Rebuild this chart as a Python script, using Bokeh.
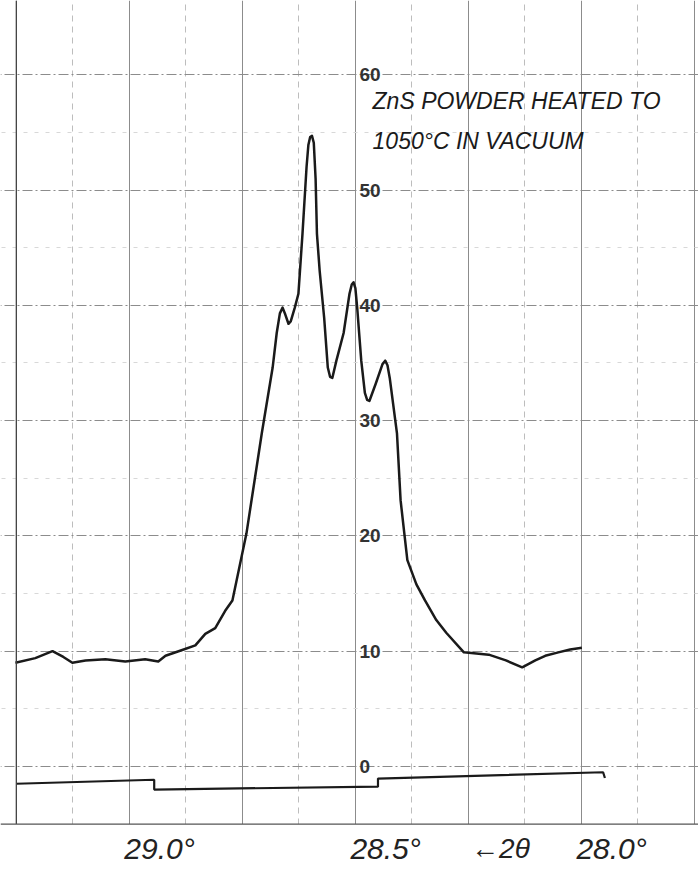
from bokeh.plotting import figure
from bokeh.models import Range1d, FixedTicker, Label, Span, BoxAnnotation
from bokeh.core.properties import value
from bokeh.embed import file_html
from bokeh.resources import INLINE

# --- data ---
two_theta = [29.252, 29.208, 29.170, 29.146, 29.126, 29.097, 29.053, 29.009, 28.965, 28.936,
             28.920, 28.883, 28.854, 28.832, 28.810, 28.788, 28.772, 28.741, 28.707, 28.683,
             28.674, 28.667, 28.661, 28.655, 28.648, 28.643, 28.634, 28.626, 28.617, 28.608,
             28.604, 28.600, 28.596, 28.592, 28.588, 28.585, 28.579, 28.569, 28.561, 28.556,
             28.551, 28.542, 28.526, 28.513, 28.508, 28.504, 28.500, 28.496, 28.487, 28.479,
             28.474, 28.469, 28.455, 28.440, 28.434, 28.429, 28.424, 28.408, 28.400, 28.392,
             28.385, 28.365, 28.346, 28.321, 28.299, 28.260, 28.205, 28.167, 28.131, 28.102,
             28.080, 28.051, 28.025, 27.999]
intensity = [9.0, 9.4, 10.0, 9.5, 9.0, 9.2, 9.3, 9.1, 9.3, 9.1,
             9.6, 10.1, 10.5, 11.5, 12.0, 13.5, 14.4, 20.2, 28.9, 34.6,
             37.6, 39.3, 39.8, 39.2, 38.4, 38.6, 39.8, 41.0, 46.2, 52.0,
             53.9, 54.6, 54.7, 54.1, 51.0, 46.2, 43.0, 38.9, 34.6, 33.8,
             33.7, 35.2, 37.6, 41.0, 41.8, 42.0, 41.5, 39.8, 35.2, 32.4,
             31.8, 31.7, 33.2, 34.9, 35.2, 34.8, 33.7, 28.9, 23.1, 20.3,
             17.9, 15.8, 14.4, 12.7, 11.6, 9.9, 9.7, 9.2, 8.6, 9.2,
             9.6, 9.9, 10.15, 10.3]

marker_theta = [29.25, 28.945, 28.945, 28.45, 28.45, 27.952, 27.948]
marker_level = [-1.5, -1.15, -2.0, -1.75, -1.05, -0.5, -1.0]

x_tick_values = [29.0, 28.5, 28.0]
x_tick_labels = ["29.0°", "28.5°", "28.0°"]
y_tick_values = [0, 10, 20, 30, 40, 50, 60]
y_minor_values = [5, 15, 25, 35, 45, 55]
x_grid_major = [29.25, 29.0, 28.75, 28.5, 28.25, 28.0, 27.75]
x_grid_minor = [29.125, 28.875, 28.625, 28.375, 28.125, 27.875]
title_lines = ["ZnS POWDER HEATED TO", "1050°C IN VACUUM"]
axis_title = "←2θ"

p = figure(width=698, height=868,
           x_range=Range1d(29.285, 27.741), y_range=Range1d(-8.85, 66.44),
           output_backend="svg", toolbar_location=None,
           min_border_left=0, min_border_right=0, min_border_top=0, min_border_bottom=0)
p.xaxis.visible = False
p.yaxis.visible = False
p.outline_line_color = None
p.background_fill_color = "white"
p.border_fill_color = "white"

p.xgrid.ticker = FixedTicker(ticks=x_grid_major, minor_ticks=x_grid_minor)
p.xgrid.grid_line_color = "#8c8c8c"
p.xgrid.grid_line_width = 1
p.xgrid.minor_grid_line_color = "#bdbdbd"
p.xgrid.minor_grid_line_dash = "6 5"

p.ygrid.ticker = FixedTicker(ticks=y_tick_values, minor_ticks=y_minor_values)
p.ygrid.grid_line_color = "#8c8c8c"
p.ygrid.grid_line_dash = "10 3 2 3"
p.ygrid.minor_grid_line_color = "#d8d8d8"
p.ygrid.minor_grid_line_dash = "4 7"

p.add_layout(Span(location=29.25, dimension="height", line_color="#444444", line_width=1.3))

p.line(two_theta, intensity, line_color="#1a1a1a", line_width=2.5, line_join="round")
p.line(marker_theta, marker_level, line_color="#1a1a1a", line_width=2.2)

p.text(x=[28.5] * len(y_tick_values), y=y_tick_values, text=[str(v) for v in y_tick_values],
       x_offset=4, text_align="left", text_baseline="middle",
       text_font=value("Liberation Sans"), text_font_size="19px", text_font_style="bold",
       text_color="#333333")

# blank strip below the chart border, where the 2-theta labels are written
p.add_layout(BoxAnnotation(top=-5.0, fill_color="white", fill_alpha=1.0, line_color=None))
p.add_layout(Span(location=-5.0, dimension="width", line_color="#555555", line_width=1.2))

for i, line in enumerate(title_lines):
    p.add_layout(Label(x=28.462, y=57.76 - 3.55 * i, text=line, text_align="left",
                       text_baseline="middle", text_font="Liberation Sans",
                       text_font_style="italic", text_font_size="23px", text_color="#1a1a1a"))

for xv, lab in zip(x_tick_values, x_tick_labels):
    p.add_layout(Label(x=xv, y=-7.1, x_offset=-5, text=lab, text_align="left",
                       text_baseline="middle", text_font="Liberation Sans",
                       text_font_style="italic", text_font_size="30px", text_color="#222222"))

p.add_layout(Label(x=28.179, y=-7.1, text=axis_title, text_align="center",
                   text_baseline="middle", text_font="Liberation Sans",
                   text_font_style="italic", text_font_size="28px", text_color="#222222"))

open("out.html", "w").write(file_html(p, INLINE))
